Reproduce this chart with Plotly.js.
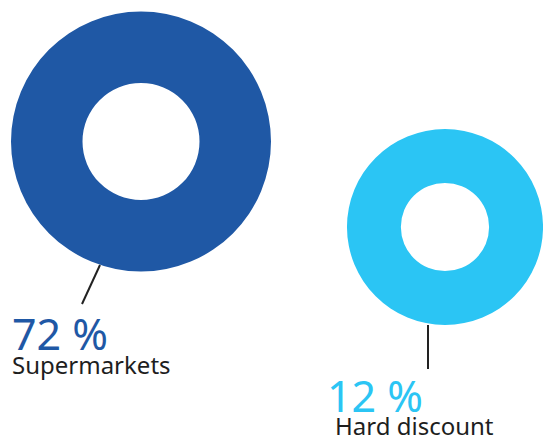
<!DOCTYPE html>
<html>
<head>
<meta charset="utf-8">
<script src="https://cdn.plot.ly/plotly-3.0.1.min.js"></script>
<style>html,body{margin:0;padding:0;background:#fff}#chart{width:543px;height:437px}</style>
</head>
<body>
<div id="chart"></div>
<script>
const categories = ["Supermarkets", "Hard discount"];
const shares = [72, 12];
const shareLabels = ["72 %", "12 %"];
const colors = ["#1f58a5", "#2bc5f4"];

const W = 543, H = 437;
const px = v => v / W;
const py = v => 1 - v / H;

// layout geometry (pixels)
const geo = [
  {cx: 141, cy: 141.5, r: 130, line: [[100, 265], [82, 304]], pct: [10, 333], name: [10, 364]},
  {cx: 445, cy: 227, r: 98, line: [[428, 325], [428, 369]], pct: [325, 395], name: [333, 425]}
];

const FONT = "'Noto Sans', 'DejaVu Sans', sans-serif";

const data = categories.map((c, i) => ({
  type: "pie",
  labels: [c],
  values: [shares[i]],
  hole: 0.45,
  sort: false,
  textinfo: "none",
  hoverinfo: "label+value",
  showlegend: false,
  marker: {colors: [colors[i]], line: {width: 0}},
  domain: {
    x: [px(geo[i].cx - geo[i].r), px(geo[i].cx + geo[i].r)],
    y: [py(geo[i].cy + geo[i].r), py(geo[i].cy - geo[i].r)]
  }
}));

const shapes = geo.map(g => ({
  type: "line", xref: "paper", yref: "paper",
  x0: px(g.line[0][0]), y0: py(g.line[0][1]),
  x1: px(g.line[1][0]), y1: py(g.line[1][1]),
  line: {color: "#222222", width: 2}
}));

const annotations = [];
categories.forEach((c, i) => {
  const g = geo[i];
  annotations.push({
    xref: "paper", yref: "paper", x: px(g.pct[0]), y: py(g.pct[1]),
    xanchor: "left", yanchor: "middle", showarrow: false,
    text: shareLabels[i],
    font: {family: FONT, size: 43, color: colors[i]}
  });
  annotations.push({
    xref: "paper", yref: "paper", x: px(g.name[0]), y: py(g.name[1]),
    xanchor: "left", yanchor: "middle", showarrow: false,
    text: c,
    font: {family: FONT, size: 24, color: "#1e1e1e"}
  });
});

Plotly.newPlot("chart", data, {
  width: W, height: H,
  margin: {l: 0, r: 0, t: 0, b: 0},
  paper_bgcolor: "#ffffff",
  plot_bgcolor: "#ffffff",
  shapes: shapes,
  annotations: annotations
}, {displayModeBar: false, staticPlot: true});
</script>
</body>
</html>
